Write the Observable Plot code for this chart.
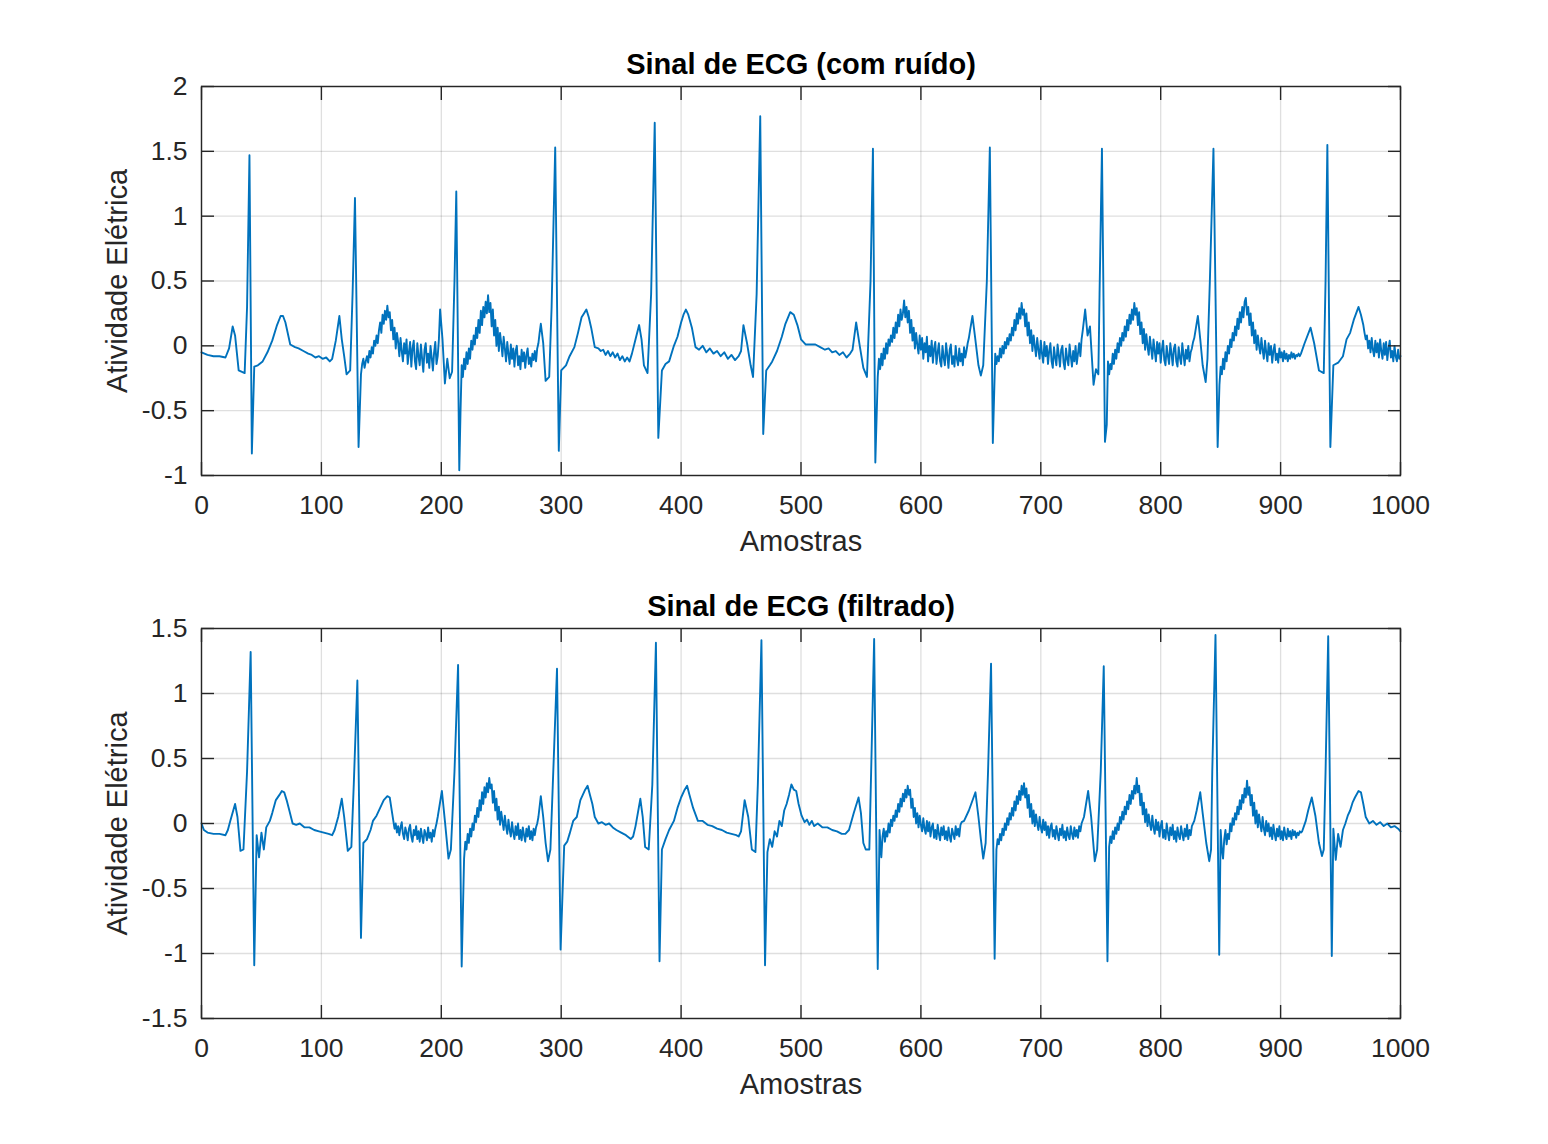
<!DOCTYPE html>
<html>
<head>
<meta charset="utf-8">
<script src="https://cdn.jsdelivr.net/npm/d3@7"></script>
<script src="https://cdn.jsdelivr.net/npm/@observablehq/plot@0.6"></script>
<style>
  html, body { margin: 0; padding: 0; background: #fff; }
  #chart { width: 1548px; height: 1144px; }
  #chart svg { display: block; }
</style>
</head>
<body>
<div id="chart"></div>
<script>
// ---- Data: [sample, amplitude] key points ----
const noisyKeyPoints = [
[0,-0.05],[5,-0.07],[10,-0.08],[15,-0.08],[20,-0.09],[23,-0.02],[26,0.15],[28,0.08],[31,-0.19],[36,-0.21],[38,0.3],[40,1.47],[42,-0.83],[44,-0.16],[47,-0.15],[51,-0.12],[55,-0.05],[59,0.04],[63,0.16],[66,0.23],[68,0.23],[70,0.18],[74,0.01],[78,-0.01],[81,-0.02],[85,-0.04],[89,-0.06],[92,-0.07],[95,-0.09],[98,-0.08],[101,-0.10],[104,-0.09],[107,-0.12],[109,-0.10],[112,0.04],[115,0.23],[117,0.05],[119,-0.08],[121,-0.22],[124,-0.19],[126,0.4],[128,1.14],[131,-0.78],[133,-0.22],
[198,0.05],[199,0.28],[201,0.05],[203,-0.29],[205,-0.10],[207,-0.25],[209,-0.20],[211,0.5],[212.5,1.19],[215,-0.96],[216,-0.52],
[283,0.17],[285,0.02],[287,-0.27],[290,-0.24],[292,0.3],[295,1.53],[298,-0.81],[300,-0.19],[304,-0.15],[307,-0.08],[311,-0.01],[314,0.10],[317,0.22],[319,0.25],[321,0.28],[323,0.22],[325,0.14],[328,-0.01],[331,-0.02],[333,-0.04],[335,-0.03],[337,-0.07],[339,-0.04],[341,-0.08],[343,-0.05],[345,-0.09],[347,-0.06],[349,-0.11],[351,-0.08],[353,-0.12],[355,-0.09],[357,-0.12],[359,-0.06],
[362,0.05],[365,0.16],[367,0.05],[369,-0.15],[372,-0.21],[375,0.4],[378,1.72],[381,-0.71],[384,-0.19],[387,-0.14],[390,-0.12],[394,0.0],[397,0.07],[400,0.18],[402,0.24],[404,0.28],[406,0.24],[409,0.14],[412,-0.01],[415,-0.03],[418,0.0],[421,-0.05],[424,-0.02],[427,-0.06],[430,-0.04],[433,-0.08],[436,-0.05],[439,-0.10],[442,-0.07],[445,-0.11],[448,-0.08],[450,-0.04],
[452,0.16],[455,0.02],[458,-0.15],[460,-0.24],[463,0.4],[466,1.77],[468.5,-0.68],[471,-0.19],[474,-0.15],[476,-0.12],[480,-0.04],[484,0.07],[487,0.17],[491,0.26],[494,0.24],[497,0.16],[500,0.05],[504,0.01],[508,0.01],[512,0.01],[516,-0.01],[520,-0.03],[523,-0.02],[526,-0.05],[529,-0.04],[532,-0.07],[535,-0.05],[538,-0.09],[541,-0.06],[543,-0.03],
[546,0.18],[549,0.0],[552,-0.17],[555,-0.24],[558,0.5],[560,1.52],[562,-0.90],
[643,0.23],[645,0.08],[648,-0.15],[650,-0.23],[652,-0.15],[655,0.5],[657.5,1.53],[660,-0.75],[662,-0.06],
[737,0.28],[739,0.08],[741,0.15],[744,-0.30],[746,-0.18],[748,-0.22],[749,0.4],[751,1.52],[753.5,-0.74],[755,-0.61],
[831,0.23],[833,0.05],[835,-0.15],[837.5,-0.28],[839,-0.10],[841,0.5],[844,1.52],[847.5,-0.78],
[920,0.02],[925,0.14],[928,0.02],[932,-0.19],[936,-0.21],[937.5,0.5],[939,1.55],[941.5,-0.78],[944,-0.15],[948,-0.13],[952,-0.08],[955,0.05],[958,0.10],[961,0.20],[963,0.25],[965,0.30],[967,0.24]
];

// dense noisy stretches: one value per sample, starting at `start`
const noisySegments = [
{start: 134, values: [
-0.14,-0.10,-0.17,-0.12,-0.08,-0.13,-0.04,-0.09,-0.01,-0.06,
0.04,0.0,0.08,0.02,0.12,0.18,0.10,0.24,0.17,0.27,
0.20,0.31,0.22,0.26,0.12,0.20,0.05,0.14,-0.02,0.10,
0.03,-0.08,0.06,-0.04,-0.12,0.02,-0.06,0.05,-0.14,-0.05,
0.03,-0.16,-0.02,0.04,-0.12,-0.18,0.02,-0.08,-0.15,0.01,
-0.10,-0.20,-0.03,0.02,-0.13,-0.06,-0.17,0.0,-0.09,-0.19,
-0.05,0.03,-0.14,-0.08]},
{start: 217, values: [
-0.15,-0.24,-0.10,-0.18,-0.05,-0.14,-0.02,-0.10,0.04,-0.03,
0.08,0.01,0.14,0.06,0.20,0.10,0.27,0.16,0.30,0.22,
0.34,0.25,0.39,0.26,0.33,0.15,0.28,0.08,0.20,0.0,
0.14,-0.04,0.10,0.02,-0.08,0.07,-0.02,-0.12,0.03,-0.06,
-0.14,0.01,-0.10,-0.02,-0.16,-0.04,0.0,-0.15,-0.08,-0.18,
-0.03,-0.12,-0.05,-0.17,-0.07,-0.02,-0.14,-0.09,-0.16,-0.06,
-0.11,-0.04,-0.12,-0.02,0.02,0.10]},
{start: 564, values: [
-0.24,-0.10,-0.18,-0.06,-0.15,-0.02,-0.10,0.02,-0.06,0.05,
0.0,0.08,0.03,0.14,0.06,0.18,0.10,0.24,0.15,0.28,
0.20,0.25,0.35,0.22,0.30,0.18,0.27,0.10,0.20,0.04,
0.14,-0.02,0.10,0.01,-0.06,0.08,-0.03,0.06,-0.10,0.02,
-0.05,0.07,-0.12,0.0,-0.08,0.04,-0.13,-0.02,0.03,-0.14,
-0.05,0.02,-0.12,-0.16,0.0,-0.09,-0.15,0.02,-0.07,-0.17,
-0.03,0.01,-0.14,-0.08,-0.16,0.0,-0.10,-0.15,-0.02,-0.12,
-0.06,-0.15,-0.01,-0.09,-0.04,0.02,0.06,0.12]},
{start: 663, values: [
-0.14,-0.08,-0.12,-0.02,-0.09,0.0,-0.06,0.03,-0.02,0.06,
0.01,0.09,0.04,0.14,0.08,0.20,0.12,0.25,0.17,0.29,
0.21,0.33,0.24,0.28,0.15,0.25,0.08,0.18,0.02,0.12,
-0.04,0.08,0.0,-0.08,0.06,-0.03,-0.10,0.04,-0.06,-0.13,
0.03,-0.08,0.0,-0.14,-0.04,0.02,-0.12,-0.17,-0.01,-0.09,
-0.15,0.01,-0.07,-0.16,-0.03,0.0,-0.13,-0.18,-0.02,-0.10,
-0.15,0.01,-0.08,-0.16,-0.04,-0.12,0.0,-0.14,-0.06,0.02,
-0.08,0.05,0.12]},
{start: 756, values: [
-0.12,-0.22,-0.14,-0.18,-0.06,-0.14,-0.03,-0.10,0.02,-0.05,
0.06,0.0,0.10,0.04,0.15,0.07,0.20,0.12,0.24,0.17,
0.28,0.20,0.33,0.24,0.29,0.16,0.26,0.09,0.18,0.02,
0.13,-0.03,0.09,0.0,-0.07,0.07,-0.02,-0.10,0.05,-0.04,
-0.12,0.03,-0.06,0.02,-0.13,-0.03,0.04,-0.11,-0.15,0.0,
-0.08,-0.14,0.02,-0.06,-0.15,-0.02,0.01,-0.12,-0.16,-0.01,
-0.09,-0.14,0.02,-0.07,-0.15,-0.03,-0.10,0.0,-0.12,-0.05,
-0.02,0.03,0.06]},
{start: 849, values: [
-0.30,-0.16,-0.22,-0.10,-0.18,-0.05,-0.12,0.0,-0.06,0.05,
-0.01,0.10,0.04,0.15,0.08,0.21,0.13,0.26,0.18,0.30,
0.22,0.34,0.37,0.24,0.30,0.16,0.25,0.08,0.18,0.02,
0.12,-0.03,0.08,0.0,-0.06,0.06,-0.03,-0.10,0.04,-0.05,
-0.12,0.02,-0.07,0.0,-0.13,-0.04,0.01,-0.11,-0.06,-0.13,
-0.02,-0.09,-0.05,-0.12,-0.04,-0.10,-0.06,-0.12,-0.07,-0.10,
-0.05,-0.09,-0.06,-0.10,-0.07,-0.08,-0.06,-0.08,-0.06]},
{start: 969, values: [
0.16,0.10,0.05,0.08,-0.02,0.04,-0.05,0.06,-0.03,-0.08,
0.04,-0.05,0.02,-0.09,0.05,-0.04,-0.10,0.02,-0.07,0.03,
-0.11,-0.02,0.04,-0.09,-0.04,-0.12,0.0,-0.08,-0.12,-0.03,
-0.10,-0.08]}
];

const filteredKeyPoints = [
[0,0.0],[2,-0.05],[5,-0.07],[10,-0.08],[15,-0.08],[20,-0.09],[22,-0.05],[24,0.02],[28,0.15],[30,0.05],[32.5,-0.21],[35,-0.20],[38,0.4],[41,1.32],[44,-1.09],[46,-0.09],[48,-0.26],[50,-0.07],[52,-0.20],[54,-0.03],[57,0.02],[59,0.08],[62,0.18],[65,0.22],[67,0.25],[69,0.24],[71,0.18],[73,0.11],[76,0.0],[79,-0.01],[82,0.0],[86,-0.03],[90,-0.03],[94,-0.05],[98,-0.06],[102,-0.07],[106,-0.08],[109,-0.09],
[111,-0.05],[114,0.05],[117,0.19],[119,0.05],[122,-0.21],[125,-0.18],[127,0.3],[130,1.10],[133,-0.88],[135,-0.15],[138,-0.12],[141,-0.05],[143,0.02],[146,0.06],[149,0.12],[152,0.18],[155,0.21],[157,0.20],[159,0.08],
[200.5,0.25],[203,0.02],[206,-0.27],[208,-0.20],[211,0.4],[214,1.22],[217,-1.10],
[283,0.21],[285,0.05],[287,-0.15],[289,-0.29],[291,-0.20],[293,0.3],[296.5,1.19],[299.5,-0.97],[302.5,-0.17],[305,-0.14],[307,-0.08],[310,0.02],[313,0.05],[316,0.18],[318,0.22],[320,0.26],[322,0.29],[324,0.22],[326,0.15],[328,0.05],[331,0.0],[334,0.01],[337,-0.01],[340,0.0],[343,-0.03],[346,-0.05],[350,-0.07],[354,-0.09],[358,-0.12],[360,-0.10],
[362,-0.02],[366,0.19],[368,0.05],[370,-0.18],[373,-0.20],[376,0.3],[379,1.39],[382,-1.06],[384,-0.20],[387,-0.12],[390,-0.05],[394,0.02],[397,0.12],[400,0.20],[403,0.26],[405,0.29],[407,0.22],[410,0.12],[414,0.02],[418,0.02],[422,-0.01],[426,-0.02],[430,-0.04],[434,-0.05],[438,-0.07],[442,-0.08],[446,-0.09],[448,-0.10],
[450,-0.06],[453,0.18],[456,0.05],[459,-0.20],[462,-0.22],[464,0.3],[467,1.41],[470,-1.09],[472,-0.22],[474,-0.12],[476,-0.18],[478,-0.06],[480,-0.10],[482,0.02],[484,-0.02],[486,0.10],[488,0.15],[490,0.22],[492,0.30],[494,0.26],[496,0.25],[498,0.15],[500.5,0.06],[503,0.01],[505,0.03],[507,-0.01],[509,0.02],[511,-0.02],[514,0.0],[518,-0.03],[522,-0.03],[526,-0.05],[530,-0.06],[534,-0.08],[537,-0.08],
[540,-0.05],[544,0.08],[548,0.20],[550,0.08],[552,-0.15],[554,-0.20],[557,-0.20],[558.5,0.4],[561,1.42],[564,-1.12],[565.5,-0.05],
[636,0.02],[640,0.10],[645.5,0.24],[648,0.05],[650,-0.12],[652,-0.27],[654,-0.15],[656,0.4],[658.5,1.23],[661.5,-1.04],
[736,0.05],[739.5,0.25],[742,0.05],[745,-0.29],[747,-0.20],[750,0.4],[752.5,1.21],[755.6,-1.06],
[828,0.02],[830,0.10],[833,0.24],[835,0.08],[838,-0.15],[840.5,-0.29],[842,-0.20],[843,0.4],[845.7,1.45],[848.8,-1.01],
[921,0.02],[923,0.1],[926,0.20],[929,0.06],[932,-0.15],[934.5,-0.25],[936,-0.20],[937.5,0.4],[939.7,1.44],[942.7,-1.02],[944,-0.04],[946,-0.28],[948,-0.08],[950,-0.18],[952,-0.05],[954,0.0],[956,0.06],[958,0.10],[960,0.16],[962,0.20],[965,0.25],[967,0.24],[969,0.15],[971,0.05],[974,0.0],[977,0.02],[980,-0.01],[983,0.01],[986,-0.02],[989,0.0],[992,-0.03],[995,-0.02],[998,-0.04],[1000,-0.06]
];

const filteredSegments = [
{start: 160, values: [
0.02,-0.04,0.0,-0.07,-0.02,-0.09,-0.03,0.01,-0.08,-0.12,
-0.03,-0.07,-0.13,-0.04,-0.01,-0.10,-0.14,-0.05,-0.09,-0.02,
-0.12,-0.06,-0.14,-0.04,-0.10,-0.15,-0.05,-0.08,-0.13,-0.03,
-0.11,-0.07,-0.14,-0.05,-0.10,-0.04,0.0,0.05]},
{start: 219, values: [
-0.27,-0.14,-0.20,-0.08,-0.15,-0.04,-0.10,0.0,-0.05,0.06,
0.01,0.12,0.05,0.18,0.10,0.24,0.15,0.28,0.20,0.31,
0.24,0.35,0.27,0.30,0.16,0.25,0.10,0.19,0.03,0.13,
-0.01,0.09,0.02,-0.05,0.06,-0.02,-0.08,0.03,-0.05,-0.10,
0.01,-0.07,-0.12,-0.02,-0.09,0.0,-0.12,-0.05,-0.13,-0.03,
-0.09,-0.14,-0.04,-0.10,-0.02,-0.12,-0.06,-0.13,-0.04,-0.09,
-0.03,0.0,0.05]},
{start: 567, values: [
-0.26,-0.10,-0.04,-0.14,-0.06,-0.10,0.0,-0.07,0.03,-0.02,
0.06,0.02,0.10,0.05,0.15,0.09,0.19,0.13,0.23,0.17,
0.26,0.20,0.29,0.22,0.26,0.12,0.19,0.05,0.12,0.0,
0.08,-0.03,0.06,-0.01,-0.06,0.04,-0.04,-0.08,0.02,-0.06,
0.01,-0.10,-0.03,0.0,-0.11,-0.05,-0.12,-0.01,-0.08,-0.13,
-0.03,-0.09,-0.02,-0.12,-0.06,-0.13,-0.03,-0.10,-0.14,-0.04,
-0.08,-0.12,-0.02,-0.09,-0.04,-0.10,-0.01,0.01]},
{start: 663, values: [
-0.20,-0.12,-0.16,-0.08,-0.13,-0.04,-0.09,0.0,-0.05,0.04,
-0.01,0.08,0.03,0.12,0.06,0.17,0.10,0.21,0.15,0.25,
0.18,0.29,0.22,0.31,0.20,0.27,0.12,0.22,0.05,0.15,
0.0,0.10,-0.02,0.07,0.0,-0.05,0.05,-0.03,-0.07,0.03,
-0.05,0.01,-0.09,-0.02,-0.11,-0.03,0.0,-0.10,-0.05,-0.12,
-0.02,-0.08,-0.13,-0.04,-0.09,-0.01,-0.11,-0.06,-0.13,-0.03,
-0.09,-0.12,-0.02,-0.08,-0.12,-0.03,-0.10,-0.05,-0.11,-0.02,
-0.06,0.0]},
{start: 757, values: [
-0.18,-0.10,-0.15,-0.06,-0.12,-0.03,-0.08,0.0,-0.05,0.05,
0.0,0.09,0.03,0.13,0.07,0.17,0.11,0.22,0.15,0.25,
0.19,0.29,0.23,0.35,0.24,0.29,0.14,0.23,0.07,0.16,
0.01,0.11,-0.02,0.07,0.0,-0.05,0.06,-0.03,-0.08,0.03,
-0.05,0.01,-0.10,-0.02,0.02,-0.11,-0.05,-0.12,0.0,-0.07,
-0.13,-0.03,-0.09,-0.01,-0.12,-0.06,-0.14,-0.03,-0.09,-0.12,
-0.02,-0.08,-0.13,-0.04,-0.10,-0.01,-0.12,-0.05,-0.09,-0.02]},
{start: 850, values: [
-0.05,-0.20,-0.27,-0.12,-0.05,-0.16,-0.08,-0.12,0.0,-0.06,
0.04,-0.01,0.08,0.03,0.13,0.07,0.18,0.11,0.22,0.16,
0.27,0.20,0.33,0.22,0.28,0.14,0.22,0.06,0.16,0.0,
0.10,-0.03,0.07,0.0,-0.06,0.05,-0.04,-0.09,0.02,-0.06,
0.0,-0.10,-0.03,-0.12,-0.01,-0.08,-0.13,-0.04,-0.10,-0.02,
-0.12,-0.06,-0.13,-0.03,-0.09,-0.12,-0.04,-0.10,-0.06,-0.12,
-0.05,-0.09,-0.06,-0.11,-0.07,-0.09,-0.06,-0.07,-0.06]}
];

const xTicks = [0,100,200,300,400,500,600,700,800,900,1000];
const yTicksTop = [-1,-0.5,0,0.5,1,1.5,2];
const yTicksBottom = [-1.5,-1,-0.5,0,0.5,1,1.5];
const titles = ["Sinal de ECG (com ruído)", "Sinal de ECG (filtrado)"];
const xLabel = "Amostras";
const yLabel = "Atividade Elétrica";

// merge key points and dense stretches into one ordered series
function assemble(keys, segments) {
  const pts = keys.map(([x, y]) => ({x, y}));
  for (const s of segments) s.values.forEach((v, i) => pts.push({x: s.start + i, y: v}));
  return pts.sort((a, b) => a.x - b.x);
}

// ---- Styling ----
const INK = "#262626";
const LINE = "#0072BD";
const FONT = "'Liberation Sans', Helvetica, Arial, sans-serif";
const TICK_FS = 26.5;
const LABEL_FS = 29;

function panel(data, yDomain, yTicks, title, mTop, mBottom) {
  const fmt = d => String(d);
  return Plot.plot({
    width: 1548,
    height: 572,
    marginLeft: 201,
    marginRight: 148,
    marginTop: mTop,
    marginBottom: mBottom,
    style: { fontFamily: FONT, fontSize: TICK_FS + "px", color: INK, background: "white", overflow: "visible" },
    x: { domain: [0, 1000], ticks: xTicks },
    y: { domain: yDomain, ticks: yTicks },
    marks: [
      Plot.gridX(xTicks, { stroke: INK, strokeOpacity: 0.15, strokeWidth: 1.3 }),
      Plot.gridY(yTicks, { stroke: INK, strokeOpacity: 0.15, strokeWidth: 1.3 }),
      Plot.line(data, { x: "x", y: "y", stroke: LINE, strokeWidth: 1.9, strokeLinejoin: "round" }),
      Plot.frame({ stroke: INK, strokeWidth: 1.4 }),
      Plot.axisX(xTicks, { anchor: "bottom", tickSize: -13, text: null, stroke: INK, strokeWidth: 1.4, label: null }),
      Plot.axisX(xTicks, { anchor: "top", tickSize: -13, text: null, stroke: INK, strokeWidth: 1.4, label: null }),
      Plot.axisY(yTicks, { anchor: "left", tickSize: -13, text: null, stroke: INK, strokeWidth: 1.4, label: null }),
      Plot.axisY(yTicks, { anchor: "right", tickSize: -13, text: null, stroke: INK, strokeWidth: 1.4, label: null }),
      Plot.axisX(xTicks, { anchor: "bottom", tickSize: 0, tickPadding: 20, tickFormat: fmt, fontSize: TICK_FS, fill: INK, label: null }),
      Plot.axisY(yTicks, { anchor: "left", tickSize: 0, tickPadding: 14, tickFormat: fmt, fontSize: TICK_FS, fill: INK, label: null }),
      Plot.text([xLabel], { frameAnchor: "bottom", dy: 66, lineAnchor: "middle", textAnchor: "middle", fontSize: LABEL_FS, fill: INK }),
      Plot.text([yLabel], { frameAnchor: "left", dx: -84, rotate: -90, lineAnchor: "middle", textAnchor: "middle", fontSize: LABEL_FS, fill: INK }),
      Plot.text([title], { frameAnchor: "top", dy: -22, lineAnchor: "middle", textAnchor: "middle", fontSize: LABEL_FS, fontWeight: "bold", fill: "#000" })
    ]
  });
}

const chart = document.getElementById("chart");
chart.appendChild(panel(assemble(noisyKeyPoints, noisySegments), [-1, 2], yTicksTop, titles[0], 86, 97));
chart.appendChild(panel(assemble(filteredKeyPoints, filteredSegments), [-1.5, 1.5], yTicksBottom, titles[1], 56, 126));
</script>
</body>
</html>
